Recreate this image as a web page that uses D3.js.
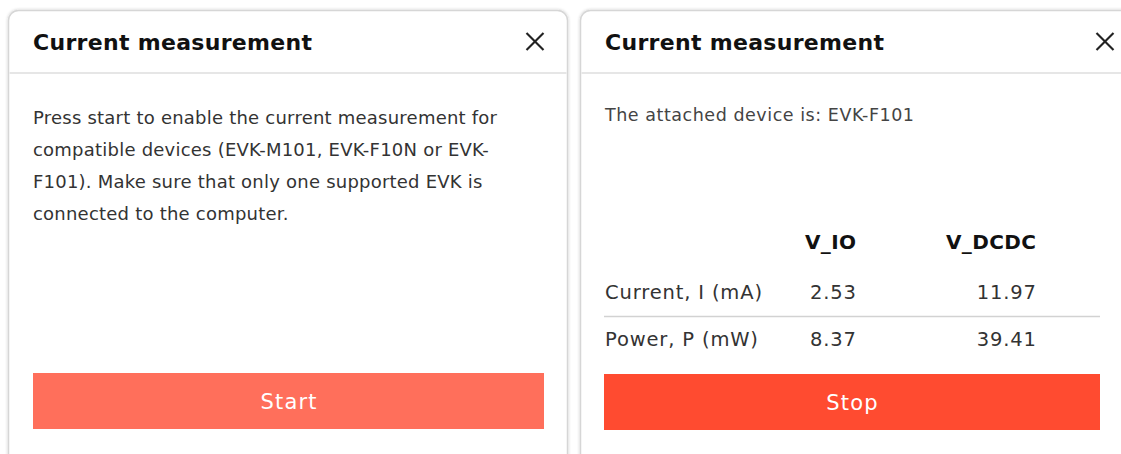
<!DOCTYPE html>
<html><head><meta charset="utf-8">
<script src="https://cdn.jsdelivr.net/npm/d3@7"></script>
<style>
html,body{margin:0;padding:0;background:#fff;}
svg{display:block;font-family:"DejaVu Sans", sans-serif;}
</style></head>
<body>
<svg id="c" width="1121" height="454"></svg>
<script>
const panelTitles = ["Current measurement", "Current measurement"];
const introLines = [
  "Press start to enable the current measurement for",
  "compatible devices (EVK-M101, EVK-F10N or EVK-",
  "F101). Make sure that only one supported EVK is",
  "connected to the computer."
];
const deviceText = "The attached device is: EVK-F101";
const columns = ["V_IO", "V_DCDC"];
const rowLabels = ["Current, I (mA)", "Power, P (mW)"];
const vIO = [2.53, 8.37];
const vDCDC = [11.97, 39.41];
const buttons = ["Start", "Stop"];

const svg = d3.select("#c");
const defs = svg.append("defs");
const f = defs.append("filter").attr("id","sh").attr("x","-5%").attr("y","-5%").attr("width","110%").attr("height","110%");
f.append("feDropShadow").attr("dx",0).attr("dy",0).attr("stdDeviation",1.5).attr("flood-color","#000").attr("flood-opacity",0.22);

// letter-spacing so that a sample string spans a given width
function spacingFor(sample, size, weight, width) {
  const t = svg.append("text").attr("font-size",size).attr("font-weight",weight).text(sample);
  const w = t.node().getComputedTextLength();
  t.remove();
  return (width - w) / (sample.length - 1);
}

const panels = [
  {x:8.5, y:10.5, w:559, h:460},
  {x:580.5, y:10.5, w:560, h:460}
];
panels.forEach(p => {
  svg.append("rect").attr("x",p.x).attr("y",p.y).attr("width",p.w).attr("height",p.h)
    .attr("rx",10).attr("fill","#fff").attr("stroke","#d6d6d6").attr("stroke-width",1.5)
    .attr("filter","url(#sh)");
  svg.append("line").attr("x1",p.x+1).attr("x2",p.x+p.w-1).attr("y1",73).attr("y2",73)
    .attr("stroke","#e6e6e6").attr("stroke-width",2);
});

// titles
const titleX = [33, 605];
const lsTitle = spacingFor(panelTitles[0], 22, 700, 279);
panelTitles.forEach((t,i) => {
  svg.append("text").attr("x",titleX[i]).attr("y",50).text(t)
    .attr("font-size",22).attr("font-weight",700).attr("fill","#111")
    .attr("letter-spacing",lsTitle);
});
// close icons
[535, 1105].forEach(cx => {
  const g = svg.append("g").attr("stroke","#222").attr("stroke-width",2.2);
  g.append("line").attr("x1",cx-8.5).attr("y1",33).attr("x2",cx+8.5).attr("y2",50);
  g.append("line").attr("x1",cx+8.5).attr("y1",33).attr("x2",cx-8.5).attr("y2",50);
});

// intro text
const lsBody = spacingFor(introLines[0], 18, 400, 464);
svg.append("g").selectAll("text").data(introLines).join("text")
  .attr("x",33).attr("y",(d,i)=>124+i*32).text(d=>d)
  .attr("font-size",18).attr("fill","#333").attr("letter-spacing",lsBody);

const lsDev = spacingFor(deviceText, 17.5, 400, 309);
svg.append("text").attr("x",605).attr("y",121).text(deviceText)
  .attr("font-size",17.5).attr("fill","#444").attr("letter-spacing",lsDev);

// table
const colX = d3.scaleOrdinal().domain(columns).range([856, 1036]);
const rowY = d3.scalePoint().domain(rowLabels).range([299, 346]);
const lsHead = spacingFor("V_DCDC", 20, 700, 90);
const lsCell = spacingFor(rowLabels[0], 19.5, 400, 157);
svg.append("g").selectAll("text").data(columns).join("text")
  .attr("x",d=>colX(d)+lsHead).attr("y",249).attr("text-anchor","end").text(d=>d)
  .attr("font-size",20).attr("font-weight",700).attr("fill","#111").attr("letter-spacing",lsHead);
svg.append("g").selectAll("text").data(rowLabels).join("text")
  .attr("x",605).attr("y",d=>rowY(d)).text(d=>d)
  .attr("font-size",19.5).attr("fill","#333").attr("letter-spacing",lsCell);
const fmt = d3.format(".2f");
[vIO, vDCDC].forEach((vals, ci) => {
  svg.append("g").selectAll("text").data(vals).join("text")
    .attr("x",colX(columns[ci])+lsCell).attr("y",(d,i)=>rowY(rowLabels[i]))
    .attr("text-anchor","end").text(d=>fmt(d))
    .attr("font-size",19.5).attr("fill","#333").attr("letter-spacing",lsCell);
});
svg.append("line").attr("x1",604).attr("x2",1100).attr("y1",316.5).attr("y2",316.5)
  .attr("stroke","#d2d2d2").attr("stroke-width",1.5);

// buttons
const btn = [
  {x:33, y:373, w:511, h:56, fill:"#ff6f5b"},
  {x:604, y:374, w:496, h:56, fill:"#ff4b30"}
];
const lsBtn = spacingFor("Start", 21, 400, 56);
btn.forEach((b,i) => {
  svg.append("rect").attr("x",b.x).attr("y",b.y).attr("width",b.w).attr("height",b.h).attr("fill",b.fill);
  svg.append("text").attr("x",b.x+b.w/2+lsBtn/2).attr("y",b.y+b.h/2+7.5).attr("text-anchor","middle")
    .text(buttons[i]).attr("font-size",21).attr("fill","#fff").attr("letter-spacing",lsBtn);
});
</script>
</body></html>
